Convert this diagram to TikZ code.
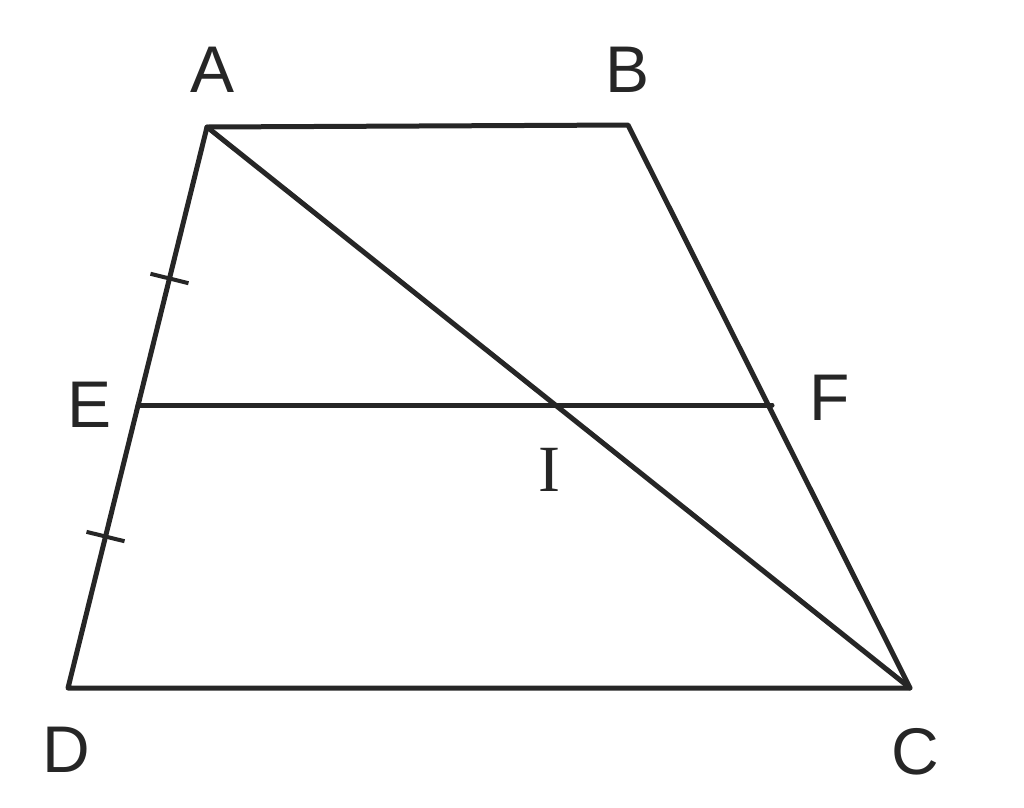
\documentclass[tikz,border=0pt]{standalone}
\usepackage{fontspec}
\setmainfont{Liberation Sans}
\newfontfamily\serifI{Liberation Serif}
\usetikzlibrary{calc}
\begin{document}
\begin{tikzpicture}[x=1pt,y=-1pt,
  edge/.style={line width=5pt,line join=round,line cap=round,black!85},
  tick/.style={line width=4pt,black!85},
  lbl/.style={font=\fontsize{66}{70}\selectfont,text=black!85,inner sep=0pt}]
\useasboundingbox (0,0) rectangle (1024,807);
\coordinate (A) at (207,127);
\coordinate (B) at (628,125);
\coordinate (C) at (910,688);
\coordinate (D) at (68,688);
\coordinate (E) at (138,405);
\coordinate (F) at (772,405);
\coordinate (I) at (555,405);
\draw[edge] (A) -- (B) -- (C) -- (D) -- cycle;
\draw[edge] (A) -- (C);
\draw[edge] (E) -- (F);
\coordinate (T1) at ($(A)!0.27!(D)$);
\coordinate (T2) at ($(A)!0.73!(D)$);
\draw[tick] ($(T1)+(-19,-4.7)$) -- ($(T1)+(19,4.7)$);
\draw[tick] ($(T2)+(-19,-4.7)$) -- ($(T2)+(19,4.7)$);
\node[lbl] (lA) at (213,70) {A};
\node[lbl] (lB) at (628,70) {B};
\node[lbl] (lC) at (915,752) {C};
\node[lbl] (lD) at (66,750) {D};
\node[lbl] (lE) at (90,405) {E};
\node[lbl] (lF) at (830,398) {F};
\node[lbl,font=\serifI\fontsize{66}{70}\selectfont] (lI) at (549,470) {I};
\end{tikzpicture}
\end{document}
